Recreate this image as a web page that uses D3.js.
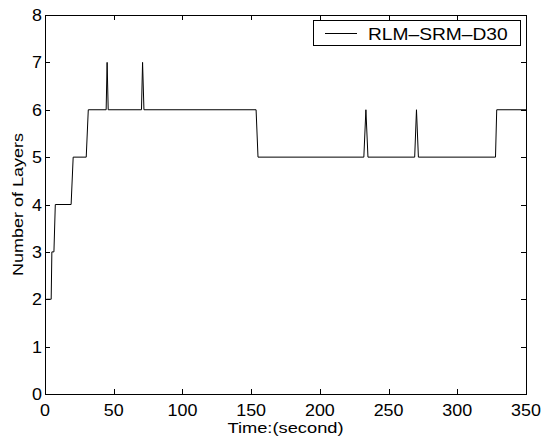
<!DOCTYPE html>
<html>
<head>
<meta charset="utf-8">
<script src="https://cdn.jsdelivr.net/npm/d3@7"></script>
<style>
    body { margin: 0; background: #fff; }
    text { font-family: "Liberation Sans", Arial, sans-serif; fill: #000; }
</style>
</head>
<body>
<div id="chart"></div>
<script>
// samples of the layer count over time
var times  = [1, 4.5, 5, 6.5, 7.5, 19, 20.5, 30, 31.5, 44.5, 45.2, 46, 70.2, 71, 72, 153.6, 155, 232, 233.5, 235, 269, 270.3, 271.7, 327.8, 328.7, 350];
var layers = [2, 2,   3, 3,   4,   4,  5,    5,  6,    6,    7,    6,  6,    7,  6,  6,     5,   5,   6,     5,   5,   6,     5,     5,     6,     6];
var xTicks = [0, 50, 100, 150, 200, 250, 300, 350];
var yTicks = [0, 1, 2, 3, 4, 5, 6, 7, 8];
var seriesName = "RLM\u2013SRM\u2013D30";

var width = 543, height = 438;
var margin = {left: 45, right: 17, top: 15, bottom: 44};

var svg = d3.select("#chart").append("svg")
    .attr("width", width)
    .attr("height", height);

var x = d3.scaleLinear().domain([0, 350]).range([margin.left, width - margin.right]);
var y = d3.scaleLinear().domain([0, 8]).range([height - margin.bottom, margin.top]);

// the reference font is wider than Arial, so stretch it along the baseline
function label(px, py, txt, anchor, size, stretch, rot) {
    return svg.append("text")
        .attr("transform", "translate(" + px + "," + py + ")" + (rot ? " rotate(" + rot + ")" : "") + " scale(" + stretch + ",1)")
        .attr("text-anchor", anchor)
        .style("font-size", size + "px")
        .text(txt);
}

// ticks, inward on all four sides
var tickLen = 5;
var g = svg.append("g").attr("stroke", "#000").attr("stroke-width", 1);
xTicks.forEach(function (t) {
    var px = Math.round(x(t)) + 0.5;
    g.append("line").attr("x1", px).attr("x2", px).attr("y1", y(0)).attr("y2", y(0) - tickLen);
    g.append("line").attr("x1", px).attr("x2", px).attr("y1", y(8)).attr("y2", y(8) + tickLen);
    label(x(t), y(0) + 21.5, t, "middle", 16, 1.12);
});
yTicks.forEach(function (t) {
    var py = Math.round(y(t)) + 0.5;
    g.append("line").attr("x1", x(0)).attr("x2", x(0) + tickLen).attr("y1", py).attr("y2", py);
    g.append("line").attr("x1", x(350)).attr("x2", x(350) - tickLen).attr("y1", py).attr("y2", py);
    label(x(0) - 3, y(t) + 6, t, "end", 16, 1.12);
});

// data line
var line = d3.line()
    .x(function (d, i) { return x(times[i]); })
    .y(function (d) { return y(d); });

svg.append("path")
    .datum(layers)
    .attr("fill", "none")
    .attr("stroke", "#000")
    .attr("stroke-width", 1)
    .attr("d", line);

// axes box
svg.append("rect")
    .attr("x", Math.round(x(0)) + 0.5)
    .attr("y", Math.round(y(8)) + 0.5)
    .attr("width", Math.round(x(350)) - Math.round(x(0)))
    .attr("height", Math.round(y(0)) - Math.round(y(8)))
    .attr("fill", "none")
    .attr("stroke", "#000")
    .attr("stroke-width", 1);

// axis titles
label((x(0) + x(350)) / 2, 433, "Time:(second)", "middle", 15, 1.22);
label(23, (y(0) + y(8)) / 2, "Number of Layers", "middle", 15, 1.2, -90);

// legend
var legend = svg.append("g");
legend.append("rect")
    .attr("x", 313.5).attr("y", 20.5)
    .attr("width", 207).attr("height", 25)
    .attr("fill", "#fff").attr("stroke", "#000").attr("stroke-width", 1);
legend.append("line")
    .attr("x1", 325).attr("x2", 357).attr("y1", 33.5).attr("y2", 33.5)
    .attr("stroke", "#000").attr("stroke-width", 1);
label(368, 39.5, seriesName, "start", 16, 1.2);
</script>
</body>
</html>
